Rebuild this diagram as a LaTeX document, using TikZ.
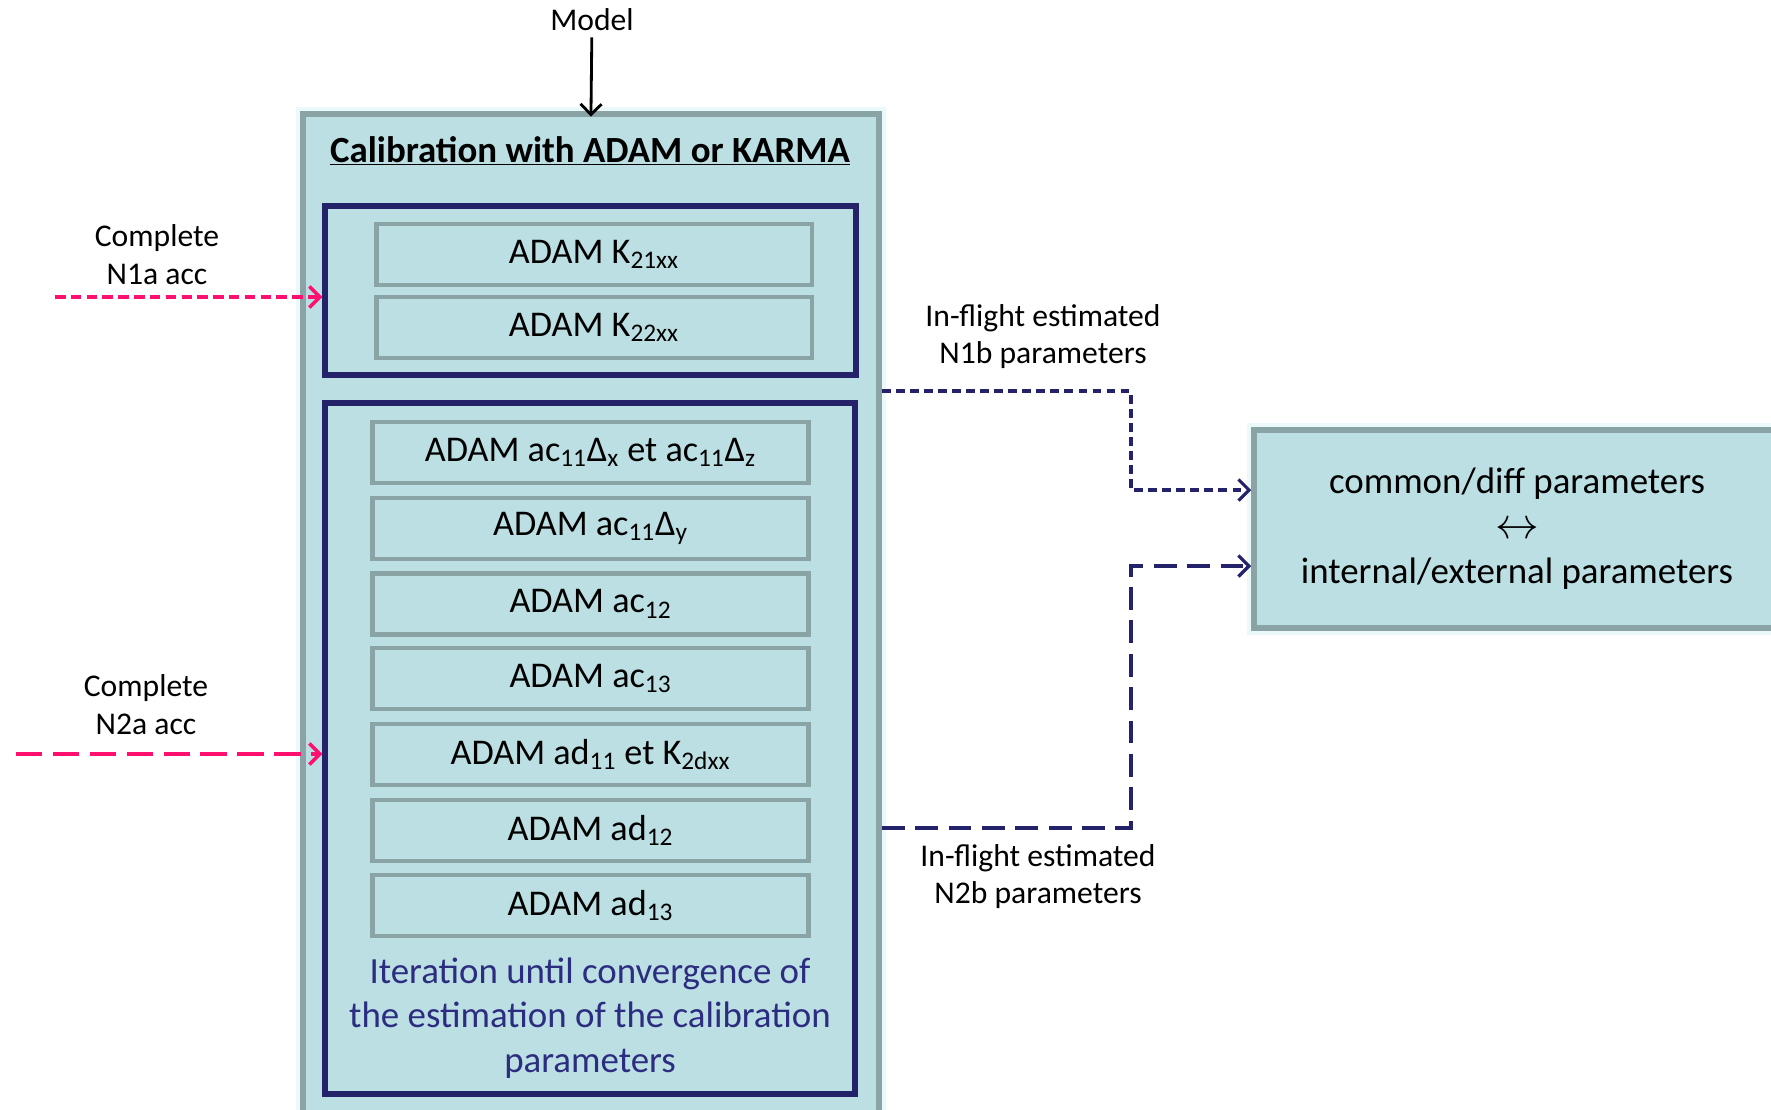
\documentclass[tikz,border=0pt]{standalone}
\usepackage{fontspec}
\setmainfont{Carlito}
\usetikzlibrary{arrows.meta,positioning}
\definecolor{tealfill}{RGB}{187,223,226}
\definecolor{tealedge}{RGB}{138,164,166}
\definecolor{glowcol}{RGB}{236,249,250}
\definecolor{navyedge}{RGB}{36,35,105}
\definecolor{navytext}{RGB}{44,44,128}
\definecolor{pinkline}{RGB}{255,16,110}
\tikzset{
  outerbox/.style={draw=tealedge, fill=tealfill, line width=3.2pt, preaction={draw=glowcol, line width=8pt}},
  groupbox/.style={draw=navyedge, line width=3pt},
  adambox/.style={draw=tealedge, line width=2.8pt, minimum width=8.72cm, minimum height=1.22cm, font=\fontsize{20.6}{24}\selectfont},
  smalltext/.style={align=center, font=\fontsize{18}{21.5}\selectfont},
  openarrow/.style={-{Straight Barb[length=6pt,width=12pt]}},
}
\begin{document}
\begin{tikzpicture}[x=0.02cm,y=-0.02cm]
\useasboundingbox (0,0) rectangle (1771,1109);
% calibration block
\node[outerbox, minimum width=11.52cm, minimum height=20.22cm] (calib) at (591,619.5) {};
\node[font=\fontsize{21}{25}\selectfont\bfseries] (title) at (590,151) {\underline{Calibration with ADAM or KARMA}};
\node[groupbox, minimum width=10.62cm, minimum height=3.38cm] (grpA) at (590.5,290.5) {};
\node[adambox] (k21) at (594,254.5) {ADAM K\textsubscript{21xx}};
\node[adambox] (k22) at (594,327.5) {ADAM K\textsubscript{22xx}};
\node[groupbox, minimum width=10.6cm, minimum height=13.82cm] (grpB) at (590,748.5) {};
\node[adambox] (acxz) at (590.5,452.5) {ADAM ac\textsubscript{11}Δ\textsubscript{x} et ac\textsubscript{11}Δ\textsubscript{z}};
\node[adambox] (acy) at (590.5,528.5) {ADAM ac\textsubscript{11}Δ\textsubscript{y}};
\node[adambox] (ac12) at (590.5,604) {ADAM ac\textsubscript{12}};
\node[adambox] (ac13) at (590.5,678.5) {ADAM ac\textsubscript{13}};
\node[adambox] (ad11) at (590.5,754.5) {ADAM ad\textsubscript{11} et K\textsubscript{2dxx}};
\node[adambox] (ad12) at (590.5,830.5) {ADAM ad\textsubscript{12}};
\node[adambox] (ad13) at (590.5,905.5) {ADAM ad\textsubscript{13}};
\node[align=center, text=navytext, font=\fontsize{21}{25.2}\selectfont] (iter) at (590,1018) {Iteration until convergence of\\the estimation of the calibration\\parameters};
% model input
\node[smalltext] (model) at (592,20) {Model};
\draw[openarrow, line width=1.6pt, shorten >=-3pt] (model) -- (calib.north);
% accelerometer inputs
\coordinate (n1a) at (55,297);
\node[smalltext] (n1alabel) at (157,255) {Complete\\N1a acc};
\draw[pinkline, line width=2pt, dash pattern=on 6pt off 3pt, openarrow] (n1a) -- (grpA.west |- n1a);
\coordinate (n2a) at (16,754);
\node[smalltext] (n2alabel) at (146,704.5) {Complete\\N2a acc};
\draw[pinkline, line width=2pt, dash pattern=on 15pt off 6pt, openarrow] (n2a) -- (grpB.west |- n2a);
% parameter conversion
\node[outerbox, minimum width=10.52cm, minimum height=3.96cm, align=center, font=\fontsize{21}{25.6}\selectfont] (conv) at (1517,529) {common/diff parameters\\{\fontsize{25}{25.6}\selectfont$\leftrightarrow$}\\internal/external parameters};
\node[smalltext] (n1blabel) at (1043,336.5) {In-flight estimated\\N1b parameters};
\draw[navyedge, line width=1.8pt, dash pattern=on 5pt off 3pt, openarrow] (calib.east |- 0,391) -| (1131,490) -- (conv.west |- 0,490);
\node[smalltext] (n2blabel) at (1038,876.5) {In-flight estimated\\N2b parameters};
\draw[navyedge, line width=1.9pt, dash pattern=on 13pt off 6pt, openarrow] (calib.east |- 0,828) -| (1131,566) -- (conv.west |- 0,566);
\end{tikzpicture}
\end{document}
